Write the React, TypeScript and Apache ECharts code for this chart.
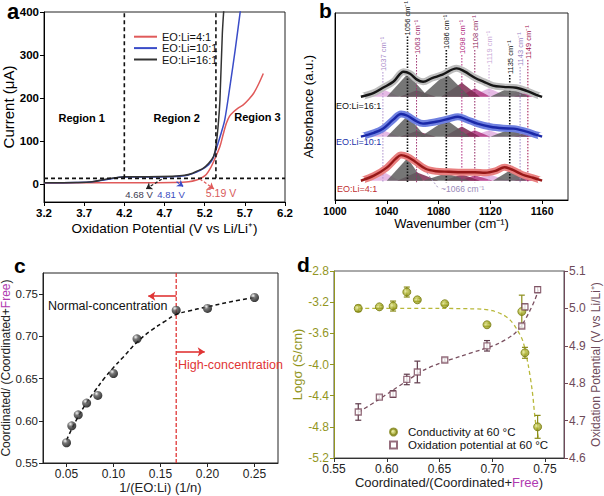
import React, { useEffect, useRef } from 'react';
import * as echarts from 'echarts';

const FONT = "'Liberation Sans',Arial,sans-serif";

// ---------------- Panel a: LSV curves ----------------
const A_X_TICKS = [3.2, 3.7, 4.2, 4.7, 5.2, 5.7, 6.2];
const A_Y_TICKS = [0, 100, 200, 300, 400];
const A_CURVE_4 = [[3.2, 2], [3.6, 2.5], [4.0, 3], [4.4, 3], [4.8, 3.5], [5.0, 5], [5.1, 9], [5.17, 15], [5.22, 22], [5.27, 36], [5.33, 60], [5.39, 87], [5.43, 115], [5.47, 141], [5.51, 158], [5.56, 168], [5.62, 177], [5.68, 184], [5.75, 197], [5.81, 211], [5.87, 232], [5.93, 257]];
const A_CURVE_10 = [[3.2, 3], [3.6, 3.5], [3.8, 5], [4.0, 11], [4.2, 16], [4.5, 16], [4.8, 17], [4.95, 19], [5.05, 24], [5.15, 32], [5.25, 45], [5.3, 58], [5.35, 85], [5.4, 115], [5.45, 149], [5.52, 234], [5.58, 312], [5.64, 397], [5.65, 410]];
const A_CURVE_16 = [[3.2, 3], [3.6, 3.5], [3.8, 5], [4.0, 12], [4.2, 17], [4.5, 17], [4.8, 18], [4.95, 20], [5.05, 25], [5.12, 31], [5.18, 36], [5.25, 48], [5.31, 64], [5.34, 87], [5.37, 140], [5.39, 195], [5.42, 350], [5.44, 410]];
const A_V_REGION_12 = 4.2;
const A_V_REGION_23 = 5.34;
const A_I_THRESHOLD = 13;
const A_I_MAX = 400;

// ---------------- Panel b: FTIR deconvolution ----------------
const B_X_TICKS = [1000, 1040, 1080, 1120, 1160];
const B_SPEC_16 = [[1020, 0], [1030, 0.21], [1037, 0.48], [1045, 0.8], [1053, 1.34], [1058, 1.23], [1063, 0.93], [1068, 0.8], [1075, 1.0], [1083, 1.18], [1094, 1.52], [1100, 1.36], [1108, 1.02], [1115, 0.8], [1122, 0.6], [1130, 0.53], [1140, 0.48], [1148, 0.32], [1155, 0.12], [1160, 0]];
const B_SPEC_10 = [[1020, 0], [1030, 0.21], [1037, 0.43], [1045, 0.91], [1051, 1.21], [1056, 1.12], [1062, 0.86], [1068, 0.7], [1078, 0.8], [1088, 0.96], [1095, 1.07], [1102, 0.91], [1110, 0.7], [1120, 0.53], [1130, 0.45], [1138, 0.43], [1148, 0.27], [1155, 0.11], [1160, 0]];
const B_SPEC_4 = [[1020, 0], [1030, 0.27], [1040, 0.7], [1047, 1.18], [1051, 1.37], [1056, 1.28], [1062, 1.02], [1070, 0.64], [1078, 0.51], [1088, 0.48], [1098, 0.45], [1108, 0.45], [1116, 0.43], [1124, 0.53], [1131, 0.72], [1137, 0.59], [1145, 0.32], [1153, 0.16], [1160, 0]];
const B_BASE_16 = 5.52;
const B_BASE_10 = 3.385;
const B_BASE_4 = 1.03;
// fitted components: [left foot, centre, right foot, height, kind]
const B_COMP_16 = [[1022, 1037, 1050, 0.4, 3], [1040, 1056, 1072, 1.22, 0], [1050, 1063, 1078, 0.35, 1], [1066, 1086, 1104, 1.25, 0], [1082, 1098, 1112, 0.75, 1], [1096, 1108, 1120, 0.45, 2], [1104, 1119, 1134, 0.45, 3], [1120, 1135, 1150, 0.5, 0], [1132, 1143, 1156, 0.35, 3], [1138, 1149, 1160, 0.25, 2]];
const B_COMP_10 = [[1022, 1037, 1050, 0.35, 3], [1040, 1056, 1070, 1.12, 0], [1050, 1063, 1078, 0.3, 1], [1066, 1086, 1104, 0.9, 0], [1084, 1098, 1112, 0.55, 1], [1096, 1108, 1120, 0.35, 2], [1104, 1119, 1134, 0.35, 3], [1120, 1135, 1150, 0.4, 0], [1132, 1143, 1156, 0.3, 3], [1138, 1149, 1160, 0.2, 2]];
const B_COMP_4 = [[1022, 1037, 1050, 0.5, 3], [1040, 1056, 1068, 1.22, 0], [1048, 1063, 1080, 0.45, 1], [1068, 1086, 1104, 0.4, 0], [1084, 1098, 1112, 0.35, 1], [1096, 1108, 1122, 0.3, 2], [1104, 1119, 1134, 0.35, 3], [1122, 1135, 1148, 0.55, 0], [1130, 1143, 1156, 0.35, 3], [1138, 1149, 1160, 0.2, 2]];
const B_PEAKS = [1037, 1056, 1063, 1086, 1098, 1108, 1119, 1135, 1143, 1149];
const B_PEAK_TOPS = [6.84, 8.75, 7.75, 8.02, 7.75, 8.02, 7.22, 6.68, 7.11, 7.49];
const B_PEAK_BOTTOM = 0.95;

// ---------------- Panel c: coordinated fraction ----------------
const C_X_TICKS = [0.05, 0.1, 0.15, 0.2, 0.25];
const C_Y_TICKS = [0.55, 0.6, 0.65, 0.7, 0.75];
const C_X = [0.05, 0.0556, 0.0625, 0.0714, 0.0833, 0.1, 0.125, 0.1667, 0.2, 0.25];
const C_Y = [0.574, 0.594, 0.607, 0.621, 0.63, 0.656, 0.697, 0.731, 0.733, 0.746];
const C_FIT = [[0.05, 0.577], [0.055, 0.589], [0.06, 0.6], [0.07, 0.619], [0.08, 0.635], [0.09, 0.65], [0.1, 0.663], [0.11, 0.675], [0.125, 0.693], [0.14, 0.707], [0.155, 0.718], [0.1667, 0.726], [0.18, 0.73], [0.2, 0.735], [0.225, 0.741], [0.25, 0.746]];
const C_DIVIDE = 0.1667;
const C_ARROW_LEFT = [0.137, 0.7476];
const C_ARROW_RIGHT = [0.197, 0.6816];

// ---------------- Panel d: conductivity & oxidation potential ----------------
const D_X_TICKS = [0.55, 0.6, 0.65, 0.7, 0.75];
const D_YL_TICKS = [-5.2, -4.8, -4.4, -4.0, -3.6, -3.2, -2.8];
const D_YR_TICKS = [4.6, 4.7, 4.8, 4.9, 5.0, 5.1];
const D_X = [0.573, 0.593, 0.606, 0.619, 0.629, 0.655, 0.695, 0.728, 0.731, 0.743];
const D_COND = [-3.28, -3.26, -3.25, -3.07, -3.17, -3.22, -3.49, -3.32, -3.85, -4.8];
const D_COND_ERR = [0.04, 0.02, 0.064, 0.064, 0.02, 0.02, 0.02, 0.21, 0.07, 0.147];
const D_OX = [4.723, 4.763, 4.771, 4.81, 4.83, 4.862, 4.9, 4.953, 5.004, 5.05];
const D_OX_ERR = [0.022, 0.005, 0.009, 0.014, 0.029, 0.005, 0.014, 0.005, 0.008, 0.008];
const D_COND_FIT = [[0.573, -3.28], [0.6, -3.28], [0.65, -3.28], [0.68, -3.285], [0.69, -3.29], [0.7, -3.31], [0.71, -3.36], [0.717, -3.43], [0.723, -3.54], [0.729, -3.7], [0.734, -4.0], [0.738, -4.35], [0.741, -4.74], [0.744, -4.96]];
const D_OX_FIT = [[0.573, 4.722], [0.59, 4.752], [0.605, 4.78], [0.62, 4.808], [0.635, 4.835], [0.65, 4.853], [0.67, 4.872], [0.69, 4.89], [0.705, 4.905], [0.72, 4.93], [0.728, 4.955], [0.735, 4.99], [0.74, 5.02], [0.744, 5.05]];

const COMP_COLORS = ['#5e5e5e', '#7c2a50', '#b23a82', '#e2aee0'];
const COMP_Z = [4, 3, 2, 1];
const PEAK_COLORS = ['#a98bc9', '#111111', '#9c2c6c', '#111111', '#b0257c', '#8e1f5e', '#c9a7d6', '#111111', '#9a86c6', '#a0124c'];
const OLIVE = '#93961f';
const MAUVE = '#6e4a5a';

function txt(text: string, x: number, y: number, o: any = {}) {
  const align = o.align || 'center';
  const va = o.va || 'middle';
  return {
    type: 'text', x, y, silent: true, z: 50,
    style: {
      text, fill: o.color || '#000', fontSize: o.size || 12, fontWeight: o.bold ? 'bold' : 'normal',
      fontFamily: FONT, align, verticalAlign: va, textAlign: align, textVerticalAlign: va,
    },
  };
}

function valueAxis(o: any) {
  const color = o.color || '#000';
  return {
    type: 'value', gridIndex: o.grid, min: o.min, max: o.max, position: o.position,
    name: o.name, nameLocation: 'middle', nameGap: o.nameGap,
    nameTextStyle: { fontSize: o.nameSize || 13, color: o.nameColor || color, fontFamily: FONT, rich: o.rich },
    axisLine: { show: true, onZero: false, lineStyle: { color, width: o.lineWidth || 1 } },
    axisTick: { show: o.ticks !== undefined, customValues: o.ticks, length: 4, inside: false, lineStyle: { color, width: 1 } },
    axisLabel: {
      show: o.ticks !== undefined && !o.hideLabels, customValues: o.ticks, margin: o.margin || 5,
      formatter: (v: number) => v.toFixed(o.digits), color: o.labelColor || color,
      fontSize: o.labelSize || 12, fontWeight: o.bold ? 'bold' : 'normal', fontFamily: FONT,
    },
    splitLine: { show: false },
  };
}

function errRender(color: string) {
  return (params: any, api: any) => {
    const x = api.value(0), y = api.value(1), e = api.value(2);
    const top = api.coord([x, y + e]);
    const bot = api.coord([x, y - e]);
    const cap = 3;
    const st = { stroke: color, lineWidth: 1.2 };
    return {
      type: 'group', children: [
        { type: 'line', shape: { x1: top[0], y1: top[1], x2: bot[0], y2: bot[1] }, style: st },
        { type: 'line', shape: { x1: top[0] - cap, y1: top[1], x2: top[0] + cap, y2: top[1] }, style: st },
        { type: 'line', shape: { x1: bot[0] - cap, y1: bot[1], x2: bot[0] + cap, y2: bot[1] }, style: st },
      ],
    };
  };
}

function compSeries(comps: number[][], base: number) {
  return {
    type: 'custom', xAxisIndex: 1, yAxisIndex: 1, z: 1, silent: true, clip: true,
    encode: { x: 1, y: 3 },
    data: comps,
    renderItem: (params: any, api: any) => {
      const l = api.value(0), c = api.value(1), r = api.value(2), h = api.value(3), k = api.value(4);
      const p0 = api.coord([l, base]);
      const p1 = api.coord([c, base + h]);
      const p2 = api.coord([r, base]);
      return { type: 'polygon', z2: COMP_Z[k], shape: { points: [p0, p1, p2] }, style: { fill: COMP_COLORS[k], opacity: 0.85 } };
    },
  };
}

function spectrumSeries(spec: number[][], base: number, core: string, halo: string) {
  const data = spec.map(([x, h]) => [x, base + h]);
  const last = data.length - 1;
  return [
    {
      type: 'line', xAxisIndex: 1, yAxisIndex: 1, z: 3, silent: true, smooth: 0.35, data,
      symbol: 'emptyCircle', showSymbol: true,
      symbolSize: (_v: any, p: any) => (p.dataIndex === 0 || p.dataIndex === last ? 7 : 0),
      itemStyle: { color: '#fff', borderColor: halo, borderWidth: 2 },
      lineStyle: { color: halo, width: 7 },
    },
    {
      type: 'line', xAxisIndex: 1, yAxisIndex: 1, z: 4, silent: true, smooth: 0.35, data, showSymbol: false,
      lineStyle: { color: core, width: 2.4 },
    },
  ];
}

function buildOption() {
  const grids = [
    { left: 44, top: 12, width: 241, height: 190 },
    { left: 335, top: 13, width: 233, height: 187 },
    { left: 43, top: 273, width: 235, height: 190 },
    { left: 334, top: 271, width: 230, height: 187 },
  ].map((g, i) => ({
    ...g, show: true, containLabel: false, outerBoundsMode: 'none',
    borderColor: i === 3 ? '#555' : '#222', borderWidth: 1, backgroundColor: 'transparent',
  }));

  const freeRich = (size: number) => ({ f: { color: '#b03ab0', fontSize: size, fontFamily: FONT } });

  const xAxis = [
    valueAxis({ grid: 0, min: 3.2, max: 6.2, ticks: A_X_TICKS, digits: 1, bold: true, labelSize: 11.5, name: 'Oxidation Potential (V vs Li/Li⁺)', nameGap: 19, nameSize: 13.5 }),
    valueAxis({ grid: 1, min: 1000, max: 1180, ticks: B_X_TICKS, digits: 0, bold: true, labelSize: 10.5, name: 'Wavenumber (cm⁻¹)', nameGap: 16, nameSize: 13 }),
    valueAxis({ grid: 2, min: 0.025, max: 0.275, ticks: C_X_TICKS, digits: 2, color: '#222', name: '1/(EO:Li) (1/n)', nameGap: 18, nameSize: 13 }),
    valueAxis({
      grid: 3, min: 0.55, max: 0.768, ticks: D_X_TICKS, digits: 2, color: '#333', labelColor: '#222',
      name: 'Coordinated/(Coordinated+{f|Free})', nameGap: 17, nameColor: '#222', nameSize: 13, rich: freeRich(13),
    }),
  ];
  const yAxis = [
    valueAxis({ grid: 0, min: -42, max: A_I_MAX, ticks: A_Y_TICKS, digits: 0, bold: true, labelSize: 11.5, name: 'Current (μA)', nameGap: 24, nameSize: 15 }),
    valueAxis({ grid: 1, min: 0, max: 10, name: 'Absorbance (a.u.)', nameGap: 20, nameSize: 13 }),
    valueAxis({
      grid: 2, min: 0.55, max: 0.775, ticks: C_Y_TICKS, digits: 2, color: '#222', labelSize: 11.5, name: 'Coordinated/ (Coordinated+{f|Free})', nameGap: 26,
      nameSize: 12, rich: freeRich(12),
    }),
    valueAxis({ grid: 3, min: -5.2, max: -2.8, ticks: D_YL_TICKS, digits: 1, color: OLIVE, position: 'left', name: 'Logσ (S/cm)', nameGap: 22, nameSize: 13 }),
    valueAxis({ grid: 3, min: 4.6, max: 5.1, ticks: D_YR_TICKS, digits: 1, color: MAUVE, position: 'right', name: 'Oxidation Potential (V vs Li/Li⁺)', nameGap: 23, nameSize: 12 }),
  ];

  const dashedBlack = { color: '#111', width: 1.6, type: [4, 3] };
  const series: any[] = [
    // ---- panel a
    { name: 'EO:Li=4:1', type: 'line', xAxisIndex: 0, yAxisIndex: 0, data: A_CURVE_4, smooth: 0.3, showSymbol: false, color: '#e05a5a', lineStyle: { color: '#e05a5a', width: 1.5 } },
    { name: 'EO:Li=10:1', type: 'line', xAxisIndex: 0, yAxisIndex: 0, data: A_CURVE_10, smooth: 0.3, showSymbol: false, color: '#3a4cc8', lineStyle: { color: '#3a4cc8', width: 1.5 } },
    { name: 'EO:Li=16:1', type: 'line', xAxisIndex: 0, yAxisIndex: 0, data: A_CURVE_16, smooth: 0.3, showSymbol: false, color: '#333', lineStyle: { color: '#333', width: 1.5 } },
    { type: 'line', xAxisIndex: 0, yAxisIndex: 0, silent: true, showSymbol: false, data: [[A_V_REGION_12, A_I_THRESHOLD], [A_V_REGION_12, A_I_MAX]], lineStyle: dashedBlack },
    { type: 'line', xAxisIndex: 0, yAxisIndex: 0, silent: true, showSymbol: false, data: [[A_V_REGION_23, A_I_THRESHOLD], [A_V_REGION_23, A_I_MAX]], lineStyle: dashedBlack },
    {
      type: 'line', xAxisIndex: 0, yAxisIndex: 0, silent: true, showSymbol: false, data: [[3.2, A_I_THRESHOLD], [6.2, A_I_THRESHOLD]], lineStyle: dashedBlack,
      markLine: {
        silent: true, symbol: ['none', 'arrow'], symbolSize: 6, label: { show: false }, animation: false,
        data: [
          [{ coord: [4.665, 11], lineStyle: { color: '#222', type: [3, 2], width: 1.3 } }, { coord: [4.47, -11.6] }],
          [{ coord: [4.85, 5], lineStyle: { color: '#3a4cc8', type: [3, 2], width: 1.3 } }, { coord: [4.934, -6] }],
          [{ coord: [5.14, 11.6], lineStyle: { color: '#e05a5a', type: [3, 2], width: 1.3 } }, { coord: [5.316, -11.6] }],
        ],
      },
    },
    // ---- panel b
    compSeries(B_COMP_16, B_BASE_16),
    compSeries(B_COMP_10, B_BASE_10),
    compSeries(B_COMP_4, B_BASE_4),
    {
      type: 'custom', xAxisIndex: 1, yAxisIndex: 1, z: 2, silent: true, clip: false,
      data: B_PEAKS.map((w, i) => [w, B_PEAK_TOPS[i]]),
      renderItem: (params: any, api: any) => {
        const i = params.dataIndex;
        const w = api.value(0);
        const top = api.coord([w, api.value(1)]);
        const bot = api.coord([w, B_PEAK_BOTTOM]);
        const color = PEAK_COLORS[i];
        const dark = color === '#111111';
        return {
          type: 'group', children: [
            { type: 'line', shape: { x1: top[0], y1: top[1], x2: bot[0], y2: bot[1] }, style: { stroke: color, lineWidth: dark ? 1.6 : 1, lineDash: [1.5, 1.5] } },
            {
              type: 'text', x: top[0] + 0.5, y: top[1] - 1, rotation: Math.PI / 2,
              style: { text: w + ' cm⁻¹', fill: color, fontSize: 7.5, fontFamily: FONT, align: 'left', verticalAlign: 'middle', textAlign: 'left', textVerticalAlign: 'middle' },
            },
          ],
        };
      },
    },
    ...spectrumSeries(B_SPEC_16, B_BASE_16, '#161616', '#bdbdbd'),
    ...spectrumSeries(B_SPEC_10, B_BASE_10, '#1a28a8', '#6f80e0'),
    ...spectrumSeries(B_SPEC_4, B_BASE_4, '#971818', '#e98080'),
    {
      type: 'line', xAxisIndex: 1, yAxisIndex: 1, silent: true, showSymbol: false, data: [],
      markLine: {
        silent: true, symbol: ['none', 'none'], label: { show: false }, animation: false,
        data: [[{ coord: [1071, 1.45], lineStyle: { color: '#a597c0', type: [2, 2], width: 1 } }, { coord: [1080, 0.62] }]],
      },
    },
    // ---- panel c
    {
      type: 'line', xAxisIndex: 2, yAxisIndex: 2, silent: true, showSymbol: false, data: [[C_DIVIDE, 0.55], [C_DIVIDE, 0.775]],
      lineStyle: { color: '#e03535', width: 1.3, type: [4, 2] },
      markLine: {
        silent: true, symbol: ['none', 'arrow'], symbolSize: 7, label: { show: false }, animation: false,
        lineStyle: { color: '#e03535', type: 'solid', width: 1.6 },
        data: [
          [{ coord: [C_DIVIDE, C_ARROW_LEFT[1]] }, { coord: C_ARROW_LEFT }],
          [{ coord: [C_DIVIDE, C_ARROW_RIGHT[1]] }, { coord: C_ARROW_RIGHT }],
        ],
      },
    },
    { type: 'line', xAxisIndex: 2, yAxisIndex: 2, silent: true, showSymbol: false, smooth: 0.4, data: C_FIT, lineStyle: { color: '#111', width: 1.5, type: [4, 3] } },
    {
      type: 'scatter', xAxisIndex: 2, yAxisIndex: 2, z: 5, symbolSize: 9, data: C_X.map((x, i) => [x, C_Y[i]]),
      itemStyle: { color: { type: 'radial', x: 0.35, y: 0.3, r: 0.75, colorStops: [{ offset: 0, color: '#f4f4f4' }, { offset: 0.35, color: '#555' }, { offset: 1, color: '#000' }] } },
    },
    // ---- panel d
    { type: 'line', xAxisIndex: 3, yAxisIndex: 3, silent: true, showSymbol: false, smooth: 0.3, data: D_COND_FIT, lineStyle: { color: '#b8b83a', width: 1.3, type: [4, 3] } },
    { type: 'line', xAxisIndex: 3, yAxisIndex: 4, silent: true, showSymbol: false, smooth: 0.3, data: D_OX_FIT, lineStyle: { color: '#7a5060', width: 1.3, type: [4, 3] } },
    { type: 'custom', xAxisIndex: 3, yAxisIndex: 3, z: 4, silent: true, encode: { x: 0, y: 1 }, data: D_X.map((x, i) => [x, D_COND[i], D_COND_ERR[i]]), renderItem: errRender('#8a8c18') },
    { type: 'custom', xAxisIndex: 3, yAxisIndex: 4, z: 4, silent: true, encode: { x: 0, y: 1 }, data: D_X.map((x, i) => [x, D_OX[i], D_OX_ERR[i]]), renderItem: errRender('#5e3a4a') },
    {
      name: 'Conductivity at 60 °C', type: 'scatter', xAxisIndex: 3, yAxisIndex: 3, z: 5, symbol: 'circle', symbolSize: 8,
      data: D_X.map((x, i) => [x, D_COND[i]]), color: '#a0a62a',
      itemStyle: { borderColor: '#7c8012', borderWidth: 1, color: { type: 'radial', x: 0.4, y: 0.4, r: 0.7, colorStops: [{ offset: 0, color: '#eef0a0' }, { offset: 0.5, color: '#a9ae2c' }, { offset: 1, color: '#7c8012' }] } },
    },
    {
      name: 'Oxidation potential at 60 °C', type: 'scatter', xAxisIndex: 3, yAxisIndex: 4, z: 5, symbol: 'rect', symbolSize: 6,
      data: D_X.map((x, i) => [x, D_OX[i]]), color: '#fff',
      itemStyle: { color: '#fff', borderColor: '#7a4a5c', borderWidth: 1.3 },
    },
  ];

  const legendText = { fontFamily: FONT, color: '#111' };
  const legend = [
    {
      data: ['EO:Li=4:1', 'EO:Li=10:1', 'EO:Li=16:1'], orient: 'vertical', left: 129, top: 26, itemWidth: 23, itemHeight: 2, itemGap: 0,
      icon: 'rect', selectedMode: false, textStyle: { ...legendText, fontSize: 11, lineHeight: 11.4, padding: [0, 0, 0, 0] },
    },
    {
      data: ['Conductivity at 60 °C', 'Oxidation potential at 60 °C'], orient: 'vertical', left: 384, top: 421, itemWidth: 7, itemHeight: 7, itemGap: 1,
      selectedMode: false, textStyle: { ...legendText, fontSize: 11.5, lineHeight: 12, padding: [0, 0, 0, 6] },
    },
  ];

  const graphic = [
    txt('a', 7, 11, { size: 22, bold: true, align: 'left' }),
    txt('b', 319, 10, { size: 21, bold: true, align: 'left' }),
    txt('c', 14, 265, { size: 21, bold: true, align: 'left' }),
    txt('d', 297, 264, { size: 21, bold: true, align: 'left' }),
    txt('Region 1', 81.7, 118, { size: 11, bold: true }),
    txt('Region 2', 176.7, 118, { size: 11, bold: true }),
    txt('Region 3', 257.5, 117, { size: 11, bold: true }),
    txt('4.68 V', 139, 194.3, { size: 9.5, color: '#3b3b52' }),
    txt('4.81 V', 171, 194.3, { size: 9.5, color: '#3a4cc0' }),
    txt('5.19 V', 221, 192.7, { size: 10.5, color: '#d85a5a' }),
    txt('EO:Li=16:1', 336, 106, { size: 9, align: 'left', color: '#111' }),
    txt('EO:Li=10:1', 336, 141.7, { size: 9, align: 'left', color: '#2233aa' }),
    txt('EO:Li=4:1', 337, 189, { size: 9, align: 'left', color: '#c03030' }),
    txt('~1066 cm⁻¹', 441, 189, { size: 8.5, align: 'left', color: '#9a88b8' }),
    txt('Normal-concentration', 48, 306, { size: 12.5, align: 'left', color: '#111' }),
    txt('High-concentration', 178, 365, { size: 12.5, align: 'left', color: '#e03535' }),
  ];

  return { animation: false, backgroundColor: '#fff', textStyle: { fontFamily: FONT }, grid: grids, xAxis, yAxis, series, legend, graphic };
}

export default function App() {
  const ref = useRef<HTMLDivElement>(null);
  useEffect(() => {
    if (!ref.current) return;
    const chart = echarts.init(ref.current, null, { renderer: 'svg' });
    chart.setOption(buildOption() as any);
    return () => chart.dispose();
  }, []);
  return <div ref={ref} style={{ position: 'fixed', left: 0, top: 0, width: 604, height: 496, background: '#fff' }} />;
}
